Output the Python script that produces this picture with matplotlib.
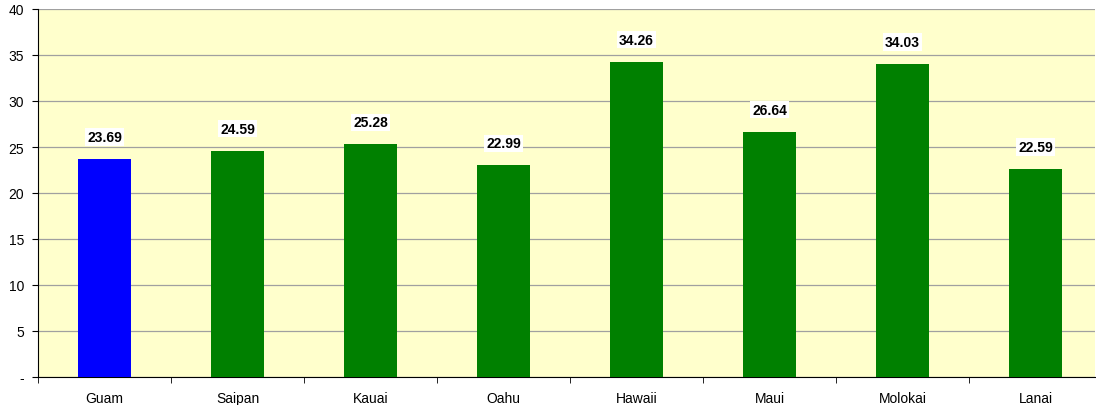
import matplotlib.pyplot as plt
import numpy as np

plt.rcParams['font.family'] = ['Liberation Sans', 'DejaVu Sans']

# Данные
islands = ['Guam', 'Saipan', 'Kauai', 'Oahu', 'Hawaii', 'Maui', 'Molokai', 'Lanai']
values = [23.69, 24.59, 25.28, 22.99, 34.26, 26.64, 34.03, 22.59]
bar_colors = ['#0000FF', '#008000', '#008000', '#008000', '#008000', '#008000', '#008000', '#008000']
y_ticks = [0, 5, 10, 15, 20, 25, 30, 35, 40]
y_labels = ['-', '5', '10', '15', '20', '25', '30', '35', '40']

fig = plt.figure(figsize=(10.96, 4.06), dpi=100)
ax = fig.add_axes([38 / 1096, 28 / 406, (1095 - 38) / 1096, (378 - 10) / 406])
ax.set_facecolor('#FFFFCC')

x = np.arange(len(islands))
ax.bar(x, values, width=0.406, color=bar_colors, zorder=3)

for xi, v in zip(x, values):
    ax.text(xi, v + 2.4, f'{v:.2f}', ha='center', va='center', fontsize=10,
            fontweight='bold', zorder=4,
            bbox=dict(facecolor='white', edgecolor='none', pad=1.2))

# категория ~133 px, правый край обрезан
ax.set_xlim(-0.5, -0.5 + (1095 - 38) / 133)
ax.set_ylim(0, 40)
ax.set_yticks(y_ticks)
ax.set_yticklabels(y_labels, fontsize=10)
ax.yaxis.grid(True, color='#A0A0A0', linewidth=0.9, zorder=0)

ax.set_xticks(x)
ax.set_xticklabels(islands, fontsize=10)
ax.tick_params(axis='x', length=0, pad=10)
ax.set_xticks(np.arange(len(islands)) - 0.5, minor=True)
ax.tick_params(axis='x', which='minor', length=4, direction='out')
ax.tick_params(axis='y', length=4, direction='out', pad=6)

for side in ['top', 'right']:
    ax.spines[side].set_visible(False)
ax.spines['left'].set_color('black')
ax.spines['bottom'].set_color('black')

plt.savefig('out.png', dpi=100)
